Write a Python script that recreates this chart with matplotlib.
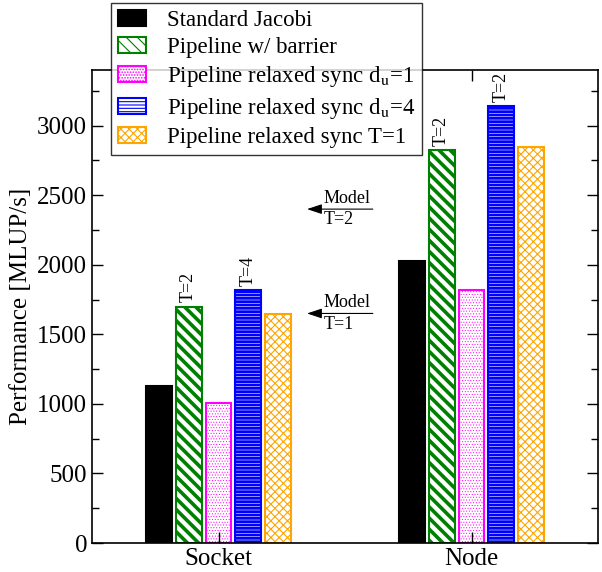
import matplotlib
matplotlib.use("Agg")
import matplotlib.pyplot as plt
import matplotlib.ticker as ticker
import numpy as np

plt.rcParams["font.family"] = ["Liberation Serif", "DejaVu Serif"]
plt.rcParams["mathtext.fontset"] = "stix"

# data
groups = ["Socket", "Node"]
series = ["Standard Jacobi",
          "Pipeline w/ barrier",
          r"Pipeline relaxed sync d$_\mathrm{u}$=1",
          r"Pipeline relaxed sync d$_\mathrm{u}$=4",
          "Pipeline relaxed sync T=1"]
values = [
    [1125, 2030],   # Standard Jacobi
    [1700, 2825],   # Pipeline w/ barrier
    [1003, 1822],   # relaxed d_u=1
    [1820, 3140],   # relaxed d_u=4
    [1647, 2850],   # relaxed T=1
]
bar_notes = [
    [None, None],
    ["T=2", "T=2"],
    [None, None],
    ["T=4", "T=2"],
    [None, None],
]
model_lines = [("Model", "T=2", 2400), ("Model", "T=1", 1650)]

colors = ["black", "#008000", "#ff00ff", "#0000ff", "#ffa500"]
faces = ["black", "white", "white", "white", "white"]
hatches = [None, "\\\\\\", "......", "-----", "xxxx"]
hatch_lw = [1.0, 2.6, 0.4, 2.0, 0.8]

fig = plt.figure(figsize=(6.02, 5.72), dpi=100)
ax = fig.add_axes([92 / 602, 1 - 543 / 572, 506 / 602, 473 / 572])

x = np.arange(1, len(groups) + 1)
width = 0.102
step = 0.118
for i, (lab, vals) in enumerate(zip(series, values)):
    plt.rcParams["hatch.linewidth"] = hatch_lw[i]
    pos = x + (i - 2) * step
    bars = ax.bar(pos, vals, width, label=lab, color=faces[i],
                  edgecolor=colors[i], hatch=hatches[i], linewidth=1.5)
    for b, note in zip(bars, bar_notes[i]):
        if note:
            ax.annotate(note, (b.get_x() + b.get_width() / 2, b.get_height()),
                        xytext=(0, 3), textcoords="offset points",
                        rotation=90, ha="center", va="bottom", fontsize=13)

# model markers with arrow
for top, bottom, yv in model_lines:
    ax.annotate("", xy=(1.35, yv), xytext=(1.61, yv),
                arrowprops=dict(arrowstyle="-|>,head_length=0.9,head_width=0.3",
                                color="black", lw=0.8, shrinkA=0, shrinkB=0))
    ax.text(1.415, yv + 15, top, ha="left", va="bottom", fontsize=13)
    ax.text(1.415, yv - 15, bottom, ha="left", va="top", fontsize=13)

ax.set_xlim(0.5, 2.5)
ax.set_ylim(0, 3400)
ax.set_xticks(x)
ax.set_xticklabels(groups)
ax.yaxis.set_major_locator(ticker.MultipleLocator(500))
ax.yaxis.set_minor_locator(ticker.MultipleLocator(250))
ax.tick_params(axis="both", which="both", direction="in", top=True, right=True,
               labelsize=18, width=1.0)
ax.tick_params(which="major", length=8)
ax.tick_params(which="minor", length=5)
ax.set_ylabel("Performance [MLUP/s]", fontsize=18)
for sp in ax.spines.values():
    sp.set_linewidth(1.2)

leg = ax.legend(loc="upper left", bbox_to_anchor=(0.0375, 1.1416),
                borderaxespad=0, fontsize=16.5, frameon=True, fancybox=False,
                handlelength=1.25, handleheight=0.7, labelspacing=0.27,
                handletextpad=0.9, borderpad=0.3)
leg.get_frame().set_edgecolor("black")
leg.get_frame().set_linewidth(1.0)

fig.savefig("out.png", dpi=100)
